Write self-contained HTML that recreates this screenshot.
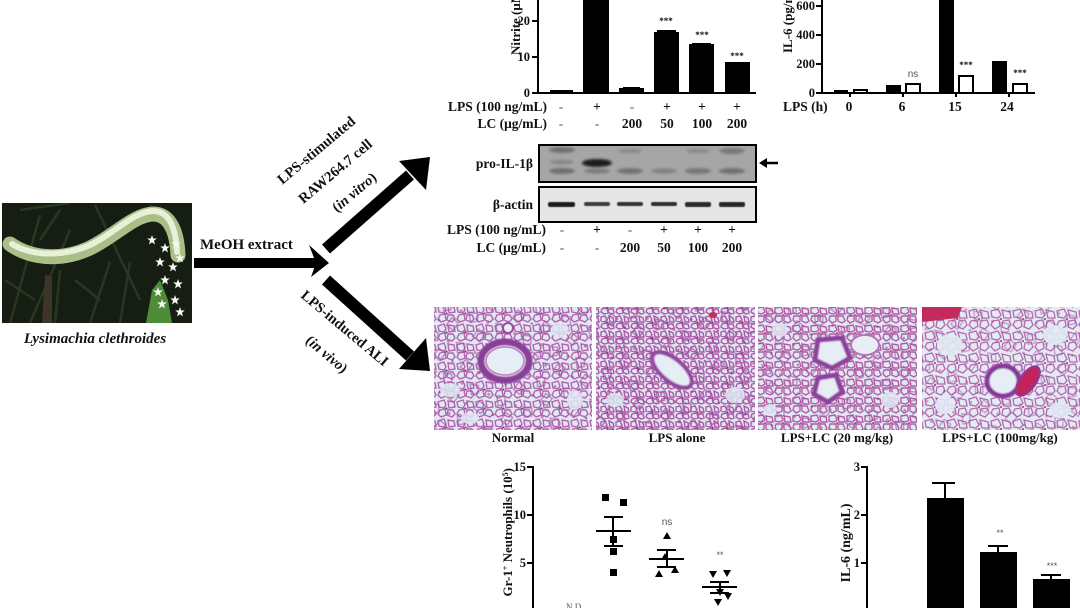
<!DOCTYPE html>
<html><head><meta charset="utf-8"><style>
html,body{margin:0;padding:0;background:#fff;width:1080px;height:608px;overflow:hidden}
svg{display:block}
text{font-family:"Liberation Serif",serif;font-weight:bold;fill:#111}
.s{font-family:"Liberation Sans",sans-serif;font-weight:normal;fill:#555}
.m{font-weight:normal;fill:#555}
</style></head><body>
<svg width="1080" height="608" viewBox="0 0 1080 608" xmlns="http://www.w3.org/2000/svg">
<defs>
<filter id="bl" x="-20%" y="-50%" width="140%" height="200%"><feGaussianBlur stdDeviation="1.3"/></filter>
<filter id="bl2"><feGaussianBlur stdDeviation="0.6"/></filter>
<filter id="bl3"><feGaussianBlur stdDeviation="0.8"/></filter>
<pattern id="pA" width="19" height="19" patternUnits="userSpaceOnUse">
<rect width="19" height="19" fill="#dfe8f3"/>
<path d="M1,3 L7,1 L9,6 L7,9 L2,8 Z M11,2 L17,3 L18,8 L12,9 Z M3,11 L8,10 L9,16 L4,18 L1,15 Z M11,11 L16,11 L18,15 L15,18 L10,16 Z" fill="none" stroke="#b366ad" stroke-width="1.4"/>
<circle cx="9.5" cy="9.5" r="1.1" fill="#8a3a8f"/>
</pattern>
<pattern id="pB" width="15" height="15" patternUnits="userSpaceOnUse">
<rect width="15" height="15" fill="#dde6f1"/>
<path d="M1,2 L5,1 L7,5 L5,7 L1,6 Z M9,1 L13,3 L14,7 L10,7 Z M2,9 L7,8 L8,13 L4,14 L1,12 Z M9,9 L13,9 L14,13 L11,14 L8,12 Z" fill="none" stroke="#ad5aa6" stroke-width="1.4"/>
<circle cx="7.5" cy="7.5" r="1.1" fill="#7d3588"/>
</pattern>
<pattern id="pC" width="18" height="18" patternUnits="userSpaceOnUse">
<rect width="18" height="18" fill="#e0e8f3"/>
<path d="M1,2 L7,1 L9,6 L6,8 L1,7 Z M10,2 L16,3 L17,8 L11,8 Z M2,10 L8,10 L8,15 L4,17 L1,14 Z M10,10 L15,10 L17,15 L14,17 L10,15 Z" fill="none" stroke="#b05ea6" stroke-width="1.4"/>
<circle cx="9" cy="9" r="1" fill="#c04585"/>
</pattern>
<pattern id="pD" width="22" height="22" patternUnits="userSpaceOnUse">
<rect width="22" height="22" fill="#e2eaf4"/>
<path d="M1,3 L8,1 L11,7 L8,10 L2,9 Z M12,2 L20,4 L21,10 L14,10 Z M3,13 L9,12 L10,18 L5,21 L1,17 Z M13,13 L19,12 L21,17 L17,21 L12,19 Z" fill="none" stroke="#b56aac" stroke-width="1.3"/>
<circle cx="11" cy="11" r="1" fill="#8a3a8f"/>
</pattern>
<pattern id="pX" width="29" height="33" patternUnits="userSpaceOnUse" patternTransform="rotate(23)">
<path d="M3,5 L11,3 L14,10 L8,14 Z M18,17 L26,19 L24,28 L16,26 Z" fill="none" stroke="#a44f9f" stroke-width="1.5"/>
<circle cx="24" cy="7" r="1.6" fill="#c24a8a"/><circle cx="7" cy="24" r="1.3" fill="#7d3588"/>
</pattern>
<clipPath id="c1"><rect x="434" y="307" width="158" height="123"/></clipPath>
<clipPath id="c2"><rect x="596" y="307" width="159" height="123"/></clipPath>
<clipPath id="c3"><rect x="758" y="307" width="159" height="123"/></clipPath>
<clipPath id="c4"><rect x="922" y="307" width="158" height="123"/></clipPath>
<clipPath id="cp"><rect x="2" y="203" width="190" height="120"/></clipPath>
<g id="star"><path d="M0,-5 L1.2,-1.5 L4.8,-1.6 L2,0.8 L3,4.5 L0,2.3 L-3,4.5 L-2,0.8 L-4.8,-1.6 L-1.2,-1.5 Z" fill="#f6f8f2"/></g>
</defs>

<!-- ===== Photo ===== -->
<g clip-path="url(#cp)">
<rect x="2" y="203" width="190" height="120" fill="#161d12"/>
<g stroke="#2c3a24" stroke-width="2.5" opacity="0.9">
<line x1="10" y1="323" x2="40" y2="215"/><line x1="30" y1="323" x2="70" y2="230"/><line x1="55" y1="323" x2="60" y2="270"/>
<line x1="90" y1="323" x2="110" y2="262"/><line x1="120" y1="323" x2="130" y2="262"/><line x1="140" y1="300" x2="95" y2="205"/>
<line x1="20" y1="210" x2="70" y2="203"/><line x1="5" y1="280" x2="35" y2="300"/><line x1="75" y1="280" x2="100" y2="300"/>
<line x1="150" y1="205" x2="185" y2="260"/><line x1="60" y1="210" x2="40" y2="240"/>
</g>
<path d="M42,323 L45,275 L52,276 L52,323 Z" fill="#3e3528"/>
<path d="M146,323 L152,290 L160,280 L168,300 L172,323 Z" fill="#4f8c3a"/>
<path d="M10,244 C30,258 60,262 90,248 C115,236 133,215 153,214 C170,214 177,232 178,255" fill="none" stroke="#aabf88" stroke-width="15" stroke-linecap="round"/>
<path d="M12,244 C30,255 60,258 90,245 C115,233 133,212 153,211 C170,211 176,230 177,252" fill="none" stroke="#e8f0d8" stroke-width="6" stroke-linecap="round" stroke-dasharray="3 2"/>
<use href="#star" x="152" y="240"/><use href="#star" x="165" y="248"/><use href="#star" x="176" y="244"/>
<use href="#star" x="160" y="262"/><use href="#star" x="173" y="267"/><use href="#star" x="180" y="258"/>
<use href="#star" x="165" y="280"/><use href="#star" x="178" y="284"/><use href="#star" x="158" y="292"/>
<use href="#star" x="175" y="300"/><use href="#star" x="162" y="304"/><use href="#star" x="180" y="312"/>
</g>
<text x="95" y="343" font-size="15" font-style="italic" text-anchor="middle">Lysimachia clethroides</text>

<!-- ===== Arrows ===== -->
<text x="200" y="249" font-size="15">MeOH extract</text>
<rect x="194" y="258" width="122" height="10" fill="#000"/>
<polygon points="309,245 329,263 311,277 316,263" fill="#000"/>
<line x1="326" y1="249" x2="410" y2="175" stroke="#000" stroke-width="12"/>
<polygon points="399,161 430,157 426,190" fill="#000"/>
<line x1="326" y1="280" x2="410" y2="356" stroke="#000" stroke-width="12"/>
<polygon points="399,369 430,371 426,338" fill="#000"/>
<text font-size="14.5" text-anchor="middle" transform="translate(316,150) rotate(-40)" dy="5">LPS-stimulated</text>
<text font-size="14.5" text-anchor="middle" transform="translate(335,171) rotate(-40)" dy="5">RAW264.7 cell</text>
<text font-size="14.5" text-anchor="middle" transform="translate(354,192) rotate(-40)" dy="5">(<tspan font-style="italic">in vitro</tspan>)</text>
<text font-size="14.5" text-anchor="middle" transform="translate(345,328) rotate(40)" dy="5">LPS-induced ALI</text>
<text font-size="14.5" text-anchor="middle" transform="translate(327,354) rotate(40)" dy="5">(<tspan font-style="italic">in vivo</tspan>)</text>

<!-- ===== Nitrite chart ===== -->
<text font-size="13" transform="translate(520,55) rotate(-90)">Nitrite (μM)</text>
<line x1="538" y1="0" x2="538" y2="94" stroke="#000" stroke-width="2"/>
<line x1="537" y1="93" x2="756" y2="93" stroke="#000" stroke-width="2"/>
<g stroke="#000" stroke-width="2"><line x1="532" y1="21" x2="538" y2="21"/><line x1="532" y1="57" x2="538" y2="57"/><line x1="532" y1="93" x2="538" y2="93"/></g>
<g font-size="12.5" text-anchor="end"><text x="530" y="25">20</text><text x="530" y="61">10</text><text x="530" y="97">0</text></g>
<g fill="#000">
<rect x="550" y="90" width="23" height="3"/>
<rect x="583" y="0" width="26" height="93"/>
<rect x="619" y="88" width="25" height="5"/><rect x="623" y="87" width="17" height="2"/>
<rect x="654" y="32" width="25" height="61"/><rect x="657" y="30" width="19" height="3"/>
<rect x="689" y="44" width="25" height="49"/><rect x="692" y="43" width="19" height="2"/>
<rect x="725" y="62" width="25" height="31"/>
</g>
<g class="s" font-size="9" text-anchor="middle"><text x="666" y="24">***</text><text x="702" y="38">***</text><text x="737" y="59">***</text></g>
<g font-size="13.5" text-anchor="end"><text x="547" y="111">LPS (100 ng/mL)</text><text x="547" y="128">LC (μg/mL)</text></g>
<g font-size="13.5" text-anchor="middle">
<text class="m" x="561" y="111">-</text><text x="597" y="111">+</text><text class="m" x="632" y="111">-</text><text x="667" y="111">+</text><text x="702" y="111">+</text><text x="737" y="111">+</text>
<text class="m" x="561" y="128">-</text><text class="m" x="597" y="128">-</text><text x="632" y="128">200</text><text x="667" y="128">50</text><text x="702" y="128">100</text><text x="737" y="128">200</text>
</g>

<!-- ===== IL-6 top chart ===== -->
<text font-size="13" transform="translate(792,53) rotate(-90)">IL-6 (pg/mL)</text>
<line x1="822" y1="0" x2="822" y2="94" stroke="#000" stroke-width="2"/>
<line x1="821" y1="93" x2="1035" y2="93" stroke="#000" stroke-width="2"/>
<g stroke="#000" stroke-width="2">
<line x1="816" y1="6" x2="822" y2="6"/><line x1="816" y1="35" x2="822" y2="35"/><line x1="816" y1="64" x2="822" y2="64"/><line x1="816" y1="93" x2="822" y2="93"/>
<line x1="850" y1="93" x2="850" y2="97"/><line x1="903" y1="93" x2="903" y2="97"/><line x1="956" y1="93" x2="956" y2="97"/><line x1="1009" y1="93" x2="1009" y2="97"/>
</g>
<g font-size="12.5" text-anchor="end"><text x="815" y="10">600</text><text x="815" y="39">400</text><text x="815" y="68">200</text><text x="815" y="97">0</text></g>
<g fill="#000">
<rect x="834" y="90" width="14" height="3"/>
<rect x="886" y="85" width="15" height="8"/>
<rect x="939" y="0" width="15" height="93"/>
<rect x="992" y="61" width="15" height="32"/>
</g>
<g fill="#fff" stroke="#000" stroke-width="2">
<rect x="854" y="90" width="13" height="3"/>
<rect x="906" y="84" width="14" height="9"/>
<rect x="959" y="76" width="14" height="17"/>
<rect x="1013" y="84" width="14" height="9"/>
</g>
<text class="s" x="913" y="77" font-size="10" text-anchor="middle">ns</text>
<g class="s" font-size="9" text-anchor="middle"><text x="966" y="68">***</text><text x="1020" y="76">***</text></g>
<g font-size="13.5"><text x="783" y="111">LPS (h)</text>
<text x="849" y="111" text-anchor="middle">0</text><text x="902" y="111" text-anchor="middle">6</text><text x="955" y="111" text-anchor="middle">15</text><text x="1007" y="111" text-anchor="middle">24</text></g>

<!-- ===== Western blot ===== -->
<rect x="539" y="145" width="217" height="37" fill="#a6a6a6" stroke="#000" stroke-width="2"/>
<g filter="url(#bl)">
<ellipse cx="562" cy="150" rx="13" ry="3" fill="#6f6f6f"/><ellipse cx="732" cy="151" rx="13" ry="3" fill="#777"/>
<ellipse cx="630" cy="151" rx="12" ry="2" fill="#888"/><ellipse cx="698" cy="151" rx="12" ry="2" fill="#888"/>
<ellipse cx="562" cy="171" rx="13" ry="3" fill="#6e6e6e"/><ellipse cx="597" cy="171" rx="13" ry="2.5" fill="#7a7a7a"/>
<ellipse cx="630" cy="171" rx="13" ry="3" fill="#737373"/><ellipse cx="664" cy="171" rx="13" ry="2.5" fill="#808080"/>
<ellipse cx="698" cy="171" rx="13" ry="3" fill="#777"/><ellipse cx="732" cy="171" rx="13" ry="3" fill="#717171"/>
<ellipse cx="597" cy="163" rx="15" ry="4" fill="#1e1e1e"/>
<ellipse cx="562" cy="162" rx="12" ry="2.5" fill="#888"/>
</g>
<rect x="539" y="145" width="217" height="37" fill="none" stroke="#000" stroke-width="2"/>
<rect x="539" y="187" width="217" height="35" fill="#e6e6e6" stroke="#000" stroke-width="2"/>
<g filter="url(#bl2)">
<rect x="548" y="202" width="27" height="5" rx="2" fill="#1c1c1c"/>
<rect x="584" y="202" width="26" height="4" rx="2" fill="#3a3a3a"/>
<rect x="617" y="202" width="26" height="4" rx="2" fill="#333"/>
<rect x="651" y="202" width="26" height="4" rx="2" fill="#2e2e2e"/>
<rect x="685" y="202" width="26" height="5" rx="2" fill="#2a2a2a"/>
<rect x="719" y="202" width="26" height="5" rx="2" fill="#262626"/>
</g>
<g font-size="13.5" text-anchor="end"><text x="533" y="168">pro-IL-1β</text><text x="533" y="209">β-actin</text></g>
<line x1="764" y1="163" x2="778" y2="163" stroke="#000" stroke-width="2.5"/>
<polygon points="759,163 767,158 767,168" fill="#000"/>
<g font-size="13.5" text-anchor="end"><text x="546" y="234">LPS (100 ng/mL)</text><text x="546" y="252">LC (μg/mL)</text></g>
<g font-size="13.5" text-anchor="middle">
<text class="m" x="562" y="234">-</text><text x="597" y="234">+</text><text class="m" x="630" y="234">-</text><text x="664" y="234">+</text><text x="698" y="234">+</text><text x="732" y="234">+</text>
<text class="m" x="562" y="252">-</text><text class="m" x="597" y="252">-</text><text x="630" y="252">200</text><text x="664" y="252">50</text><text x="698" y="252">100</text><text x="732" y="252">200</text>
</g>

<!-- ===== Histology ===== -->
<g clip-path="url(#c1)">
<rect x="434" y="307" width="158" height="123" fill="url(#pA)"/>
<rect x="434" y="307" width="158" height="123" fill="url(#pX)" opacity="0.6"/>
<g fill="#dfe8f3" opacity="0.85"><ellipse cx="450" cy="390" rx="10" ry="7"/><ellipse cx="560" cy="330" rx="9" ry="8"/><ellipse cx="575" cy="400" rx="8" ry="10"/><ellipse cx="470" cy="418" rx="9" ry="6"/></g>
<ellipse cx="505" cy="361" rx="24" ry="19" fill="#e6edf5" stroke="#8a3c99" stroke-width="7" filter="url(#bl3)"/>
<ellipse cx="505" cy="361" rx="19" ry="14" fill="none" stroke="#c27fc2" stroke-width="1.5"/>
<circle cx="508" cy="328" r="5" fill="#e8eef6" stroke="#9a4aa5" stroke-width="2"/>
</g>
<g clip-path="url(#c2)">
<rect x="596" y="307" width="159" height="123" fill="url(#pB)"/>
<rect x="596" y="307" width="159" height="123" fill="url(#pX)" opacity="0.7"/>
<g fill="#dde6f1" opacity="0.85"><ellipse cx="615" cy="400" rx="9" ry="7"/><ellipse cx="735" cy="395" rx="10" ry="8"/></g>
<ellipse cx="672" cy="370" rx="24" ry="11" transform="rotate(40 672 370)" fill="#e6edf5" stroke="#93449d" stroke-width="4" filter="url(#bl3)"/>
<ellipse cx="713" cy="315" rx="4" ry="3" fill="#c0305a"/>
</g>
<g clip-path="url(#c3)">
<rect x="758" y="307" width="159" height="123" fill="url(#pC)"/>
<rect x="758" y="307" width="159" height="123" fill="url(#pX)" opacity="0.55"/>
<g fill="#e0e8f3" opacity="0.85"><ellipse cx="780" cy="330" rx="8" ry="7"/><ellipse cx="890" cy="400" rx="9" ry="8"/><ellipse cx="770" cy="410" rx="7" ry="6"/></g>
<path d="M818,340 L842,338 L850,358 L832,368 L815,360 Z" fill="#e6edf5" stroke="#8f409c" stroke-width="5" filter="url(#bl3)"/>
<path d="M818,378 L836,375 L842,392 L828,402 L814,394 Z" fill="#e6edf5" stroke="#8f409c" stroke-width="5" filter="url(#bl3)"/>
<ellipse cx="865" cy="345" rx="14" ry="10" fill="#e8eef6" stroke="#b575b5" stroke-width="2"/>
</g>
<g clip-path="url(#c4)">
<rect x="922" y="307" width="158" height="123" fill="url(#pD)"/>
<rect x="922" y="307" width="158" height="123" fill="url(#pX)" opacity="0.45"/>
<g fill="#e2eaf4" opacity="0.9"><ellipse cx="950" cy="345" rx="13" ry="11"/><ellipse cx="1055" cy="335" rx="12" ry="10"/><ellipse cx="945" cy="405" rx="10" ry="9"/><ellipse cx="1060" cy="410" rx="11" ry="8"/></g>
<ellipse cx="1003" cy="381" rx="16" ry="15" fill="#e6edf5" stroke="#86389a" stroke-width="5" filter="url(#bl3)"/>
<ellipse cx="1028" cy="381" rx="8" ry="17" transform="rotate(35 1028 381)" fill="#c3235a" stroke="#8b3a95" stroke-width="2"/>
<path d="M922,307 L962,307 L958,318 L922,322 Z" fill="#c52a5c"/>
</g>
<g font-size="13" text-anchor="middle">
<text x="513" y="442">Normal</text><text x="677" y="442">LPS alone</text>
<text x="837" y="442">LPS+LC (20 mg/kg)</text><text x="1000" y="442">LPS+LC (100mg/kg)</text>
</g>

<!-- ===== Neutrophils chart ===== -->
<text font-size="13" text-anchor="end" transform="translate(512,468) rotate(-90)">Gr-1<tspan dy="-4" font-size="8">+</tspan><tspan dy="4"> Neutrophils (10</tspan><tspan dy="-4" font-size="8">5</tspan><tspan dy="4">)</tspan></text>
<line x1="533" y1="466" x2="533" y2="608" stroke="#000" stroke-width="2"/>
<g stroke="#000" stroke-width="2"><line x1="527" y1="467" x2="533" y2="467"/><line x1="527" y1="515" x2="533" y2="515"/><line x1="527" y1="563" x2="533" y2="563"/></g>
<g font-size="12.5" text-anchor="end"><text x="526" y="471">15</text><text x="526" y="519">10</text><text x="526" y="567">5</text></g>
<text class="m" x="566" y="610" font-size="9" fill="#999">N.D.</text>
<g fill="#000">
<rect x="602" y="494" width="7" height="7"/><rect x="620" y="499" width="7" height="7"/>
<rect x="610" y="536" width="7" height="7"/><rect x="610" y="548" width="7" height="7"/><rect x="610" y="569" width="7" height="7"/>
<polygon points="667,532 671,539 663,539"/><polygon points="665,553 669,560 661,560"/><polygon points="659,570 663,577 655,577"/><polygon points="675,566 679,573 671,573"/>
<polygon points="709,571 717,571 713,578"/><polygon points="723,570 731,570 727,577"/><polygon points="716,589 724,589 720,596"/><polygon points="724,593 732,593 728,600"/><polygon points="714,599 722,599 718,606"/>
</g>
<g stroke="#000" stroke-width="2">
<line x1="596" y1="531" x2="631" y2="531"/><line x1="604" y1="517" x2="623" y2="517"/><line x1="604" y1="546" x2="623" y2="546"/><line x1="613" y1="517" x2="613" y2="546"/>
<line x1="649" y1="559" x2="684" y2="559"/><line x1="657" y1="550" x2="676" y2="550"/><line x1="657" y1="567" x2="676" y2="567"/><line x1="667" y1="550" x2="667" y2="567"/>
<line x1="702" y1="587" x2="737" y2="587"/><line x1="710" y1="582" x2="729" y2="582"/><line x1="710" y1="593" x2="729" y2="593"/><line x1="720" y1="582" x2="720" y2="593"/>
</g>
<text class="s" x="667" y="525" font-size="10" text-anchor="middle">ns</text>
<text class="s" x="720" y="558" font-size="9" text-anchor="middle">**</text>

<!-- ===== IL-6 bottom chart ===== -->
<text font-size="14" text-anchor="middle" transform="translate(850,543) rotate(-90)">IL-6 (ng/mL)</text>
<line x1="867" y1="466" x2="867" y2="608" stroke="#000" stroke-width="2"/>
<g stroke="#000" stroke-width="2"><line x1="861" y1="467" x2="867" y2="467"/><line x1="861" y1="515" x2="867" y2="515"/><line x1="861" y1="563" x2="867" y2="563"/></g>
<g font-size="12.5" text-anchor="end"><text x="860" y="471">3</text><text x="860" y="519">2</text><text x="860" y="567">1</text></g>
<g fill="#000">
<rect x="927" y="498" width="37" height="110"/>
<rect x="980" y="552" width="37" height="56"/>
<rect x="1033" y="579" width="37" height="29"/>
</g>
<g stroke="#000" stroke-width="2">
<line x1="945" y1="483" x2="945" y2="498"/><line x1="932" y1="483" x2="955" y2="483"/>
<line x1="998" y1="546" x2="998" y2="552"/><line x1="988" y1="546" x2="1008" y2="546"/>
<line x1="1051" y1="575" x2="1051" y2="579"/><line x1="1041" y1="575" x2="1061" y2="575"/>
</g>
<text class="s" x="1000" y="536" font-size="9" text-anchor="middle">**</text>
<text class="s" x="1052" y="569" font-size="9" text-anchor="middle">***</text>
</svg>
</body></html>
